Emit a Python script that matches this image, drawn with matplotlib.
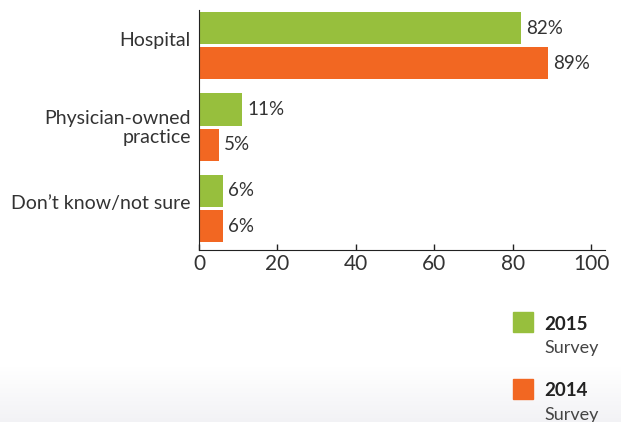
import numpy as np
import matplotlib
matplotlib.use("Agg")
import matplotlib.pyplot as plt

categories = ["Hospital", "Physician-owned\npractice", "Don\u2019t know/not sure"]
survey_2015 = [82, 11, 6]
survey_2014 = [89, 5, 6]
series_names = ["2015", "2014"]

GREEN = "#97bf3d"
ORANGE = "#f26722"
TEXT = "#333333"

plt.rcParams["font.family"] = ["Lato", "DejaVu Sans"]

fig = plt.figure(figsize=(6.21, 4.22), dpi=100)

# faint grey wash along the bottom of the page
bg = fig.add_axes([0, 0, 1, 1], zorder=-10)
frac = np.linspace(1, 0, 422).reshape(-1, 1)   # top row first
w = np.clip((0.13 - frac) / 0.13, 0, 1)[..., None]
shade = np.array([0.95, 0.95, 0.962])
rgb = np.ones((422, 1, 3)) * (1 - w) + shade * w
bg.imshow(rgb, aspect="auto", extent=[0, 1, 0, 1])
bg.axis("off")

ax = fig.add_axes([199 / 621, (422 - 250) / 422, 406 / 621, 240 / 422])
ax.patch.set_alpha(0)

pos = np.arange(len(categories))
off = 0.215
h = 0.393
ax.barh(pos - off, survey_2015, height=h, color=GREEN)
ax.barh(pos + off, survey_2014, height=h, color=ORANGE)

for y, v in zip(pos - off, survey_2015):
    ax.text(v + 1.3, y, f"{v}%", va="center", ha="left", fontsize=13.5, color=TEXT)
for y, v in zip(pos + off, survey_2014):
    ax.text(v + 1.3, y, f"{v}%", va="center", ha="left", fontsize=13.5, color=TEXT)

ax.set_xlim(0, 103.5)
ax.set_ylim(2.509, -0.436)
ax.set_xticks([0, 20, 40, 60, 80, 100])
ax.tick_params(axis="x", direction="in", length=4, width=1, colors="#222222",
               labelsize=15, labelcolor=TEXT, pad=3)
# single-line labels sit a little above the group centre
label_shift = np.array([-0.085, -0.02, -0.085])
ax.set_yticks(pos + label_shift)
ax.set_yticklabels(categories, fontsize=14, color=TEXT, ha="right",
                   linespacing=1.17)
ax.tick_params(axis="y", length=0, pad=6)
for s in ["top", "right"]:
    ax.spines[s].set_visible(False)
ax.spines["left"].set_color("#222222")
ax.spines["bottom"].set_color("#222222")

# legend on the right, square swatches with two-line labels
leg_colors = [GREEN, ORANGE]
leg_tops = [312, 379]
for name, c, top in zip(series_names, leg_colors, leg_tops):
    fig.patches.append(plt.Rectangle((513 / 621, 1 - (top + 20) / 422), 20 / 621, 20 / 422,
                                     transform=fig.transFigure, color=c))
    fig.text(544 / 621, 1 - (top + 12) / 422, name, fontsize=13.5, fontweight="bold",
             color="#222222", va="center", ha="left")
    fig.text(544 / 621, 1 - (top + 36) / 422, "Survey", fontsize=13,
             color="#444444", va="center", ha="left")

fig.savefig("out.png", dpi=100)
